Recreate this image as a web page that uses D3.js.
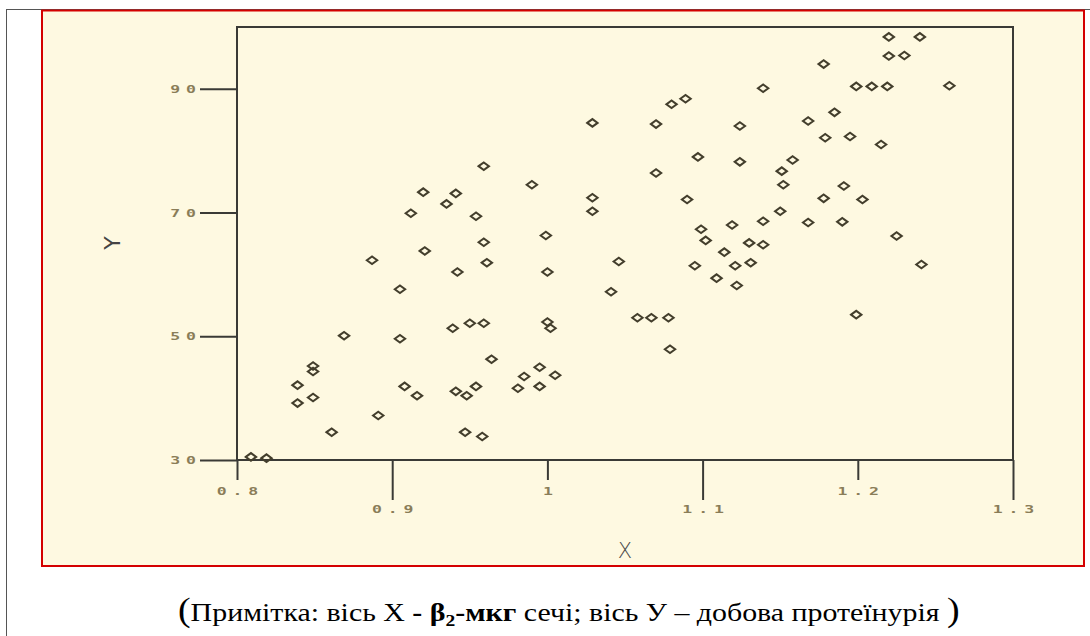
<!DOCTYPE html>
<html><head><meta charset="utf-8">
<script src="https://cdn.jsdelivr.net/npm/d3@7"></script>
<style>body{margin:0;background:#fff;} svg{display:block}</style>
</head><body><svg id="c" width="1090" height="636"></svg>
<script>
const xTicksShort = [0.8, 1, 1.2];
const xTicksLong = [0.9, 1.1, 1.3];
const yTicks = [30, 50, 70, 90];
const xValues = [0.809,0.819,0.839,0.839,0.849,0.849,0.849,0.861,0.869,0.887,
  0.891,0.905,0.905,0.908,0.916,0.912,0.920,0.921,0.935,0.941,
  0.942,0.939,0.941,0.948,0.954,0.947,0.958,0.950,0.959,0.954,
  0.959,0.959,0.961,0.964,0.981,0.985,0.995,0.995,1.005,0.990,
  0.999,1.000,1.000,1.002,1.029,1.029,1.029,1.041,1.046,1.058,
  1.067,1.078,1.079,1.070,1.070,1.080,1.089,1.097,1.090,1.099,
  1.102,1.095,1.109,1.114,1.119,1.121,1.122,1.124,1.124,1.130,
  1.131,1.139,1.139,1.139,1.150,1.151,1.152,1.158,1.168,1.168,
  1.178,1.178,1.179,1.185,1.190,1.191,1.195,1.199,1.199,1.209,
  1.219,1.203,1.215,1.220,1.220,1.230,1.240,1.225,1.241,1.259];
const yValues = [30.5,30.3,42.1,39.2,45.2,44.3,40.1,34.5,50.1,62.3,
  37.2,57.6,49.6,41.9,40.4,69.9,73.3,63.8,71.4,73.1,
  60.4,51.3,41.1,40.4,41.9,34.5,33.8,52.1,52.1,69.4,
  77.5,65.2,61.9,46.3,41.6,43.5,41.9,45.0,43.7,74.5,
  66.3,60.4,52.3,51.3,84.5,72.4,70.2,57.2,62.1,53.0,
  53.0,53.0,47.9,76.4,84.3,87.5,88.4,79.0,72.1,67.3,
  65.5,61.4,59.4,63.6,68.0,61.4,58.2,84.0,78.2,65.1,
  61.9,64.8,68.6,90.1,70.2,76.7,74.5,78.5,84.8,68.4,
  94.0,72.3,82.1,86.2,68.5,74.3,82.3,53.5,90.4,90.4,
  90.4,72.1,81.0,95.3,98.4,95.4,98.4,66.2,61.6,90.5];
const xLabel = "X";
const yLabel = "Y";

const svg = d3.select("#c");
const lineColor = "#3a3a36", labelColor = "#8a7d58", cream = "#fef9e1";
const serif = "'Liberation Serif', 'DejaVu Serif', serif";

// outer grey frame and red-framed panel
svg.append("rect").attr("x",6.5).attr("y",9.5).attr("width",1100).attr("height",700)
  .attr("fill","#fff").attr("stroke","#555").attr("stroke-width",1);
svg.append("rect").attr("x",42).attr("y",10.5).attr("width",1042).attr("height",555.5)
  .attr("fill",cream).attr("stroke","#d40000").attr("stroke-width",2);

const x = d3.scaleLinear().domain([0.8,1.3]).range([237,1013]);
const y = d3.scaleLinear().domain([30,100]).range([460,27]);

const fmt = d => d === 1 ? "1" : d3.format(".1f")(d);
const SX = 1.5, LS = 3.9;

function styleAxis(g){
  g.select(".domain").remove();
  g.attr("font-family","DejaVu Sans Mono").attr("font-size",11).attr("font-weight","bold");
  g.selectAll(".tick line").attr("stroke",lineColor).attr("stroke-width",2);
  g.selectAll(".tick text").attr("fill",labelColor).style("letter-spacing",LS+"px");
}

// x axes (alternating tick lengths)
svg.append("g").attr("transform","translate(0,460)")
  .call(d3.axisBottom(x).tickValues(xTicksShort).tickSize(20).tickPadding(7).tickFormat(fmt))
  .call(styleAxis)
  .call(g=>g.selectAll(".tick text").attr("transform",`scale(${SX},1)`).attr("dx",LS/2));
svg.append("g").attr("transform","translate(0,460)")
  .call(d3.axisBottom(x).tickValues(xTicksLong).tickSize(40).tickPadding(5.5).tickFormat(fmt))
  .call(styleAxis)
  .call(g=>g.selectAll(".tick text").attr("transform",`scale(${SX},1)`).attr("dx",LS/2));

// y axis
svg.append("g").attr("transform","translate(237,0)")
  .call(d3.axisLeft(y).tickValues(yTicks).tickSize(37).tickPadding(4))
  .call(styleAxis)
  .call(g=>g.selectAll(".tick text").attr("x",-41/SX).attr("dx",LS)
    .attr("transform",`scale(${SX},1)`));

// plot frame
svg.append("rect").attr("x",x(0.8)).attr("y",y(100))
  .attr("width",x(1.3)-x(0.8)).attr("height",y(30)-y(100))
  .attr("fill","none").attr("stroke",lineColor).attr("stroke-width",2);

// points (open diamonds)
const pts = xValues.map((v,i)=>[v,yValues[i]]);
svg.append("g").selectAll("path").data(pts).join("path")
  .attr("d", d => {
    const cx = x(d[0]), cy = y(d[1]);
    return `M${cx-5.2},${cy}L${cx},${cy-3.8}L${cx+5.2},${cy}L${cx},${cy+3.8}Z`;
  })
  .attr("fill","none").attr("stroke","#433e2c").attr("stroke-width",2);

// axis titles
svg.append("text").attr("x",625).attr("y",558).attr("text-anchor","middle")
  .attr("font-family","DejaVu Sans").attr("font-size",21).attr("font-weight",300)
  .attr("fill","#4a4a4a").text(xLabel);
svg.append("text").attr("transform","translate(120,243) rotate(-90)")
  .attr("text-anchor","middle")
  .attr("font-family","DejaVu Sans").attr("font-size",22)
  .attr("fill","#444").text(yLabel);

// caption (horizontally stretched like the reference)
const capX = 178, capRight = 960;
const cap = svg.append("text").attr("x",capX).attr("y",621)
  .style("font-family",serif).attr("font-size",26).attr("fill","#000");
cap.append("tspan").attr("font-size",33).text("(");
cap.append("tspan").text("Примітка: вісь Х ");
cap.append("tspan").attr("font-weight","bold").text("- β");
cap.append("tspan").attr("font-weight","bold").attr("font-size",17).attr("dy",5).text("2");
cap.append("tspan").attr("font-weight","bold").attr("dy",-5).text("-мкг");
cap.append("tspan").text(" сечі; вісь У – добова протеїнурія ");
cap.append("tspan").attr("font-size",33).text(")");
const bb = cap.node().getBBox();
const s = (capRight - capX) / bb.width;
cap.attr("transform",`translate(${capX},0) scale(${s},1) translate(${-capX},0)`);
</script>
</body></html>
